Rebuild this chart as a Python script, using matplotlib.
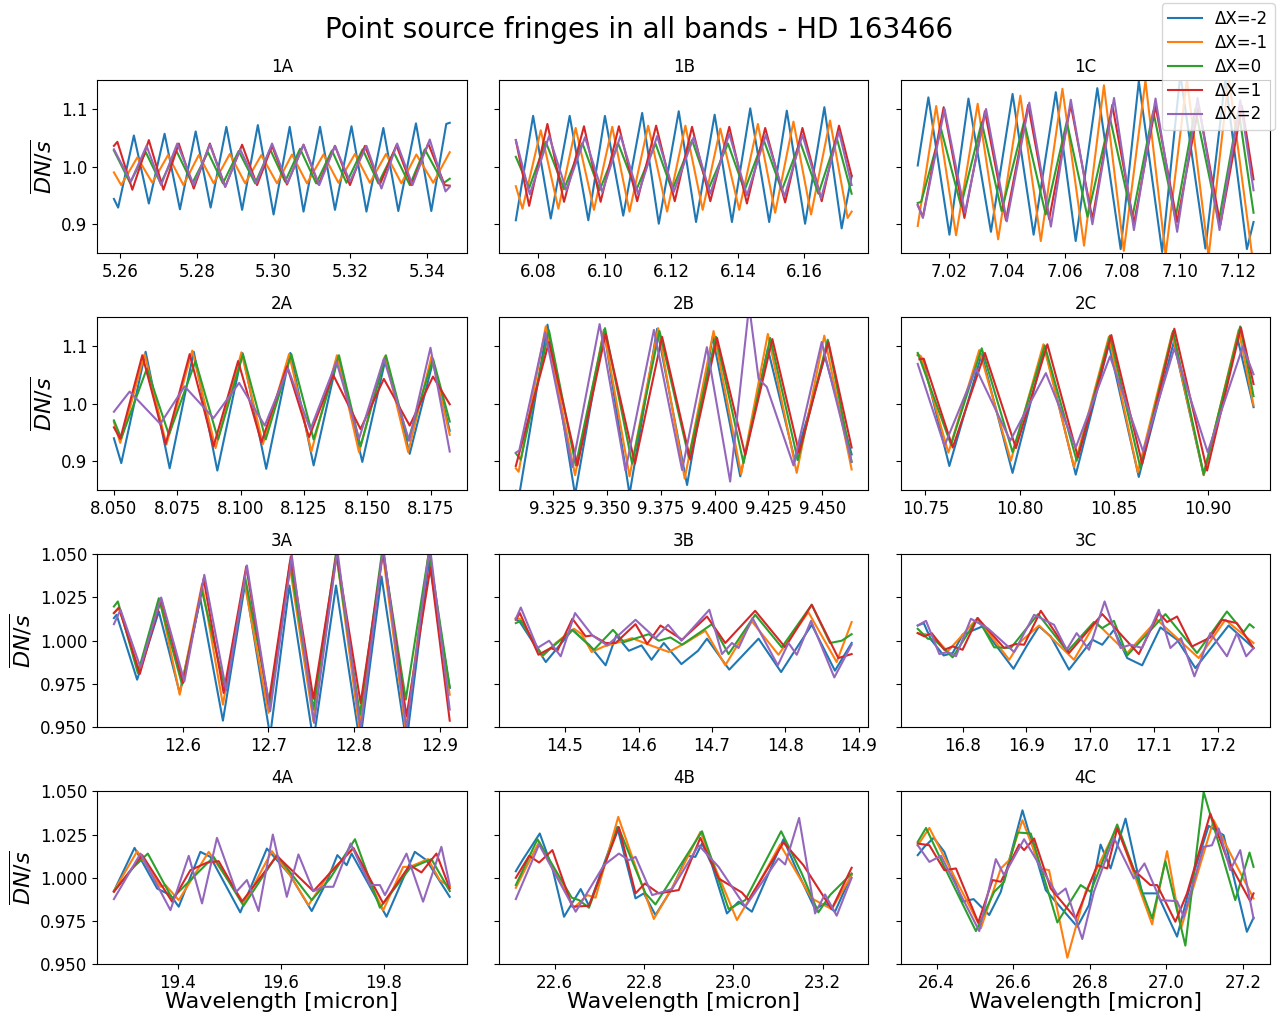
"""Point source fringes in all bands - HD 163466 (4x3 grid, one panel per band)."""
import matplotlib
matplotlib.use("Agg")
import matplotlib.pyplot as plt

OUT = "out.png"

LABELS = ["ΔX=-2", "ΔX=-1", "ΔX=0", "ΔX=1", "ΔX=2"]
COLORS = ["tab:blue", "tab:orange", "tab:green", "tab:red", "tab:purple"]
BANDS = ["1A", "1B", "1C", "2A", "2B", "2C", "3A", "3B", "3C", "4A", "4B", "4C"]

# values at turning points, one list per dither offset
X_1A = [
    [5.2584, 5.2595, 5.2636, 5.2675, 5.2716, 5.2756, 5.2797, 5.2836, 5.2877, 5.2918, 5.2959, 5.3000, 5.3042, 5.3078, 5.3121, 5.3160, 5.3203, 5.3242, 5.3286, 5.3325, 5.3371, 5.3411, 5.3450, 5.3459],
    [5.2584, 5.2603, 5.2645, 5.2684, 5.2725, 5.2765, 5.2805, 5.2844, 5.2886, 5.2926, 5.2968, 5.3009, 5.3048, 5.3087, 5.3130, 5.3169, 5.3212, 5.3251, 5.3293, 5.3333, 5.3372, 5.3416, 5.3459],
    [5.2584, 5.2626, 5.2667, 5.2706, 5.2747, 5.2788, 5.2829, 5.2868, 5.2909, 5.2952, 5.2991, 5.3030, 5.3069, 5.3111, 5.3152, 5.3190, 5.3232, 5.3273, 5.3313, 5.3355, 5.3394, 5.3442, 5.3459],
    [5.2584, 5.2593, 5.2632, 5.2675, 5.2713, 5.2753, 5.2792, 5.2834, 5.2874, 5.2918, 5.2957, 5.2996, 5.3035, 5.3078, 5.3117, 5.3160, 5.3199, 5.3238, 5.3277, 5.3320, 5.3359, 5.3403, 5.3446, 5.3459],
    [5.2584, 5.2628, 5.2669, 5.2707, 5.2749, 5.2792, 5.2834, 5.2874, 5.2913, 5.2955, 5.2996, 5.3036, 5.3078, 5.3119, 5.3160, 5.3199, 5.3242, 5.3281, 5.3322, 5.3362, 5.3407, 5.3448, 5.3459],
]
Y_1A = [
    [0.944, 0.929, 1.054, 0.936, 1.057, 0.926, 1.061, 0.929, 1.069, 0.925, 1.072, 0.917, 1.069, 0.922, 1.069, 0.925, 1.070, 0.922, 1.067, 0.923, 1.075, 0.923, 1.074, 1.076],
    [0.990, 0.968, 1.016, 0.972, 1.020, 0.968, 1.020, 0.971, 1.022, 0.971, 1.020, 0.971, 1.021, 0.971, 1.021, 0.972, 1.022, 0.972, 1.022, 0.971, 1.021, 0.972, 1.025],
    [1.028, 0.972, 1.025, 0.971, 1.027, 0.971, 1.025, 0.971, 1.027, 0.971, 1.030, 0.974, 1.031, 0.971, 1.028, 0.972, 1.030, 0.971, 1.025, 0.968, 1.030, 0.971, 0.979],
    [1.036, 1.043, 0.960, 1.046, 0.960, 1.040, 0.962, 1.040, 0.965, 1.038, 0.968, 1.036, 0.969, 1.038, 0.969, 1.036, 0.968, 1.036, 0.969, 1.037, 0.968, 1.040, 0.968, 0.967],
    [1.030, 0.974, 1.036, 0.968, 1.040, 0.968, 1.038, 0.965, 1.030, 0.971, 1.040, 0.971, 1.038, 0.968, 1.036, 0.974, 1.036, 0.962, 1.040, 0.968, 1.047, 0.957, 0.965],
]

X_1B = [
    [6.0732, 6.0784, 6.0837, 6.0894, 6.0950, 6.1000, 6.1055, 6.1112, 6.1162, 6.1222, 6.1274, 6.1330, 6.1382, 6.1437, 6.1494, 6.1547, 6.1602, 6.1660, 6.1712, 6.1742],
    [6.0732, 6.0752, 6.0807, 6.0860, 6.0912, 6.0967, 6.1022, 6.1074, 6.1130, 6.1187, 6.1242, 6.1294, 6.1347, 6.1404, 6.1460, 6.1512, 6.1567, 6.1620, 6.1677, 6.1730, 6.1742],
    [6.0732, 6.0772, 6.0822, 6.0877, 6.0932, 6.0984, 6.1040, 6.1094, 6.1152, 6.1202, 6.1262, 6.1312, 6.1370, 6.1420, 6.1477, 6.1532, 6.1587, 6.1642, 6.1697, 6.1742],
    [6.0732, 6.0772, 6.0827, 6.0877, 6.0937, 6.0987, 6.1042, 6.1097, 6.1154, 6.1210, 6.1262, 6.1317, 6.1374, 6.1427, 6.1482, 6.1542, 6.1594, 6.1652, 6.1704, 6.1742],
    [6.0732, 6.0774, 6.0832, 6.0884, 6.0940, 6.0992, 6.1047, 6.1100, 6.1157, 6.1207, 6.1267, 6.1317, 6.1374, 6.1427, 6.1484, 6.1540, 6.1594, 6.1650, 6.1704, 6.1742],
]
Y_1B = [
    [0.907, 1.088, 0.910, 1.088, 0.907, 1.088, 0.915, 1.093, 0.901, 1.096, 0.904, 1.090, 0.904, 1.101, 0.904, 1.097, 0.901, 1.103, 0.893, 0.984],
    [0.966, 0.927, 1.063, 0.927, 1.067, 0.925, 1.069, 0.922, 1.071, 0.922, 1.071, 0.925, 1.066, 0.925, 1.074, 0.920, 1.078, 0.917, 1.080, 0.911, 0.922],
    [1.017, 0.963, 1.043, 0.961, 1.041, 0.959, 1.040, 0.959, 1.040, 0.959, 1.046, 0.962, 1.040, 0.959, 1.047, 0.959, 1.043, 0.953, 1.050, 0.953],
    [1.046, 0.932, 1.074, 0.939, 1.070, 0.939, 1.070, 0.940, 1.071, 0.940, 1.069, 0.940, 1.069, 0.936, 1.067, 0.938, 1.067, 0.940, 1.071, 0.984],
    [1.046, 0.952, 1.053, 0.959, 1.051, 0.956, 1.054, 0.952, 1.053, 0.956, 1.051, 0.953, 1.057, 0.950, 1.055, 0.948, 1.055, 0.945, 1.061, 0.968],
]

X_1C = [
    [7.0090, 7.0127, 7.0200, 7.0266, 7.0344, 7.0419, 7.0492, 7.0569, 7.0638, 7.0713, 7.0794, 7.0857, 7.0938, 7.1001, 7.1088, 7.1157, 7.1232, 7.1255],
    [7.0090, 7.0154, 7.0223, 7.0298, 7.0369, 7.0446, 7.0517, 7.0592, 7.0667, 7.0736, 7.0805, 7.0880, 7.0950, 7.1024, 7.1099, 7.1169, 7.1249, 7.1255],
    [7.0090, 7.0102, 7.0171, 7.0240, 7.0312, 7.0381, 7.0459, 7.0534, 7.0607, 7.0679, 7.0757, 7.0834, 7.0907, 7.0984, 7.1053, 7.1134, 7.1203, 7.1255],
    [7.0090, 7.0108, 7.0180, 7.0252, 7.0323, 7.0396, 7.0473, 7.0546, 7.0621, 7.0696, 7.0765, 7.0840, 7.0915, 7.0990, 7.1065, 7.1140, 7.1215, 7.1255],
    [7.0090, 7.0108, 7.0183, 7.0254, 7.0327, 7.0399, 7.0477, 7.0552, 7.0621, 7.0696, 7.0771, 7.0840, 7.0915, 7.0990, 7.1061, 7.1137, 7.1209, 7.1255],
]
Y_1C = [
    [1.002, 1.120, 0.882, 1.118, 0.887, 1.126, 0.882, 1.129, 0.871, 1.136, 0.857, 1.148, 0.852, 1.160, 0.858, 1.152, 0.857, 0.904],
    [0.897, 1.105, 0.881, 1.109, 0.874, 1.123, 0.871, 1.135, 0.863, 1.141, 0.854, 1.149, 0.847, 1.152, 0.844, 1.155, 0.850, 0.847],
    [0.937, 0.939, 1.065, 0.932, 1.077, 0.923, 1.078, 0.917, 1.078, 0.913, 1.084, 0.911, 1.096, 0.910, 1.100, 0.904, 1.098, 0.920],
    [0.933, 0.913, 1.103, 0.911, 1.096, 0.907, 1.107, 0.909, 1.107, 0.909, 1.107, 0.901, 1.105, 0.904, 1.105, 0.899, 1.105, 0.978],
    [0.934, 0.911, 1.100, 0.920, 1.100, 0.905, 1.111, 0.896, 1.116, 0.900, 1.119, 0.890, 1.118, 0.887, 1.119, 0.890, 1.115, 0.959],
]

X_2A = [
    [8.0500, 8.0529, 8.0625, 8.0720, 8.0815, 8.0908, 8.1007, 8.1101, 8.1196, 8.1288, 8.1384, 8.1480, 8.1573, 8.1667, 8.1759, 8.1825],
    [8.0500, 8.0525, 8.0621, 8.0707, 8.0809, 8.0901, 8.1003, 8.1088, 8.1191, 8.1279, 8.1380, 8.1467, 8.1569, 8.1661, 8.1753, 8.1825],
    [8.0500, 8.0529, 8.0630, 8.0717, 8.0822, 8.0911, 8.1009, 8.1099, 8.1200, 8.1288, 8.1388, 8.1473, 8.1573, 8.1661, 8.1759, 8.1825],
    [8.0500, 8.0525, 8.0612, 8.0704, 8.0799, 8.0893, 8.0990, 8.1082, 8.1183, 8.1270, 8.1365, 8.1473, 8.1565, 8.1667, 8.1759, 8.1825],
    [8.0500, 8.0562, 8.0683, 8.0779, 8.0893, 8.0994, 8.1095, 8.1187, 8.1275, 8.1378, 8.1467, 8.1565, 8.1665, 8.1749, 8.1825],
]
Y_2A = [
    [0.940, 0.897, 1.090, 0.888, 1.090, 0.884, 1.088, 0.887, 1.088, 0.893, 1.082, 0.899, 1.080, 0.913, 1.073, 0.953],
    [0.968, 0.932, 1.086, 0.929, 1.092, 0.923, 1.089, 0.930, 1.086, 0.917, 1.084, 0.916, 1.082, 0.916, 1.082, 0.946],
    [0.971, 0.940, 1.061, 0.946, 1.074, 0.938, 1.086, 0.938, 1.086, 0.938, 1.084, 0.926, 1.084, 0.936, 1.078, 0.969],
    [0.959, 0.939, 1.084, 0.930, 1.086, 0.926, 1.074, 0.933, 1.065, 0.942, 1.050, 0.956, 1.043, 0.962, 1.047, 0.999],
    [0.986, 1.021, 0.965, 1.030, 0.975, 1.036, 0.962, 1.061, 0.955, 1.073, 0.939, 1.078, 0.936, 1.097, 0.917],
]

X_2B = [
    [9.3077, 9.3093, 9.3224, 9.3352, 9.3486, 9.3605, 9.3733, 9.3872, 9.3991, 9.4119, 9.4247, 9.4373, 9.4512, 9.4636],
    [9.3077, 9.3090, 9.3216, 9.3352, 9.3486, 9.3605, 9.3738, 9.3861, 9.3995, 9.4123, 9.4247, 9.4381, 9.4509, 9.4636],
    [9.3077, 9.3100, 9.3231, 9.3355, 9.3491, 9.3617, 9.3744, 9.3880, 9.4006, 9.4134, 9.4258, 9.4386, 9.4525, 9.4636],
    [9.3077, 9.3231, 9.3363, 9.3494, 9.3630, 9.3756, 9.3887, 9.4011, 9.4142, 9.4268, 9.4392, 9.4528, 9.4636],
    [9.3077, 9.3093, 9.3213, 9.3339, 9.3466, 9.3586, 9.3718, 9.3849, 9.3964, 9.4072, 9.4160, 9.4204, 9.4242, 9.4366, 9.4497, 9.4636],
]
Y_2B = [
    [0.849, 0.842, 1.137, 0.842, 1.128, 0.843, 1.130, 0.859, 1.116, 0.874, 1.095, 0.901, 1.082, 0.912],
    [0.888, 0.882, 1.134, 0.876, 1.127, 0.874, 1.131, 0.870, 1.126, 0.878, 1.121, 0.880, 1.118, 0.886],
    [0.914, 0.903, 1.127, 0.893, 1.131, 0.896, 1.126, 0.907, 1.116, 0.897, 1.114, 0.902, 1.111, 0.899],
    [0.892, 1.107, 0.893, 1.121, 0.896, 1.116, 0.903, 1.114, 0.911, 1.112, 0.915, 1.107, 0.924],
    [0.915, 0.919, 1.124, 0.890, 1.138, 0.884, 1.128, 0.885, 1.098, 0.865, 1.170, 1.043, 1.029, 0.893, 1.107, 0.899],
]

X_2C = [
    [10.7459, 10.7486, 10.7627, 10.7799, 10.7963, 10.8134, 10.8299, 10.8475, 10.8634, 10.8820, 10.8979, 10.9159, 10.9244],
    [10.7459, 10.7477, 10.7622, 10.7786, 10.7954, 10.8127, 10.8290, 10.8475, 10.8629, 10.8811, 10.8979, 10.9165, 10.9244],
    [10.7459, 10.7636, 10.7799, 10.7963, 10.8134, 10.8304, 10.8481, 10.8643, 10.8816, 10.8979, 10.9173, 10.9244],
    [10.7468, 10.7491, 10.7645, 10.7816, 10.7981, 10.8148, 10.8311, 10.8488, 10.8652, 10.8823, 10.8997, 10.9177, 10.9244],
    [10.7459, 10.7601, 10.7769, 10.7951, 10.8140, 10.8299, 10.8481, 10.8657, 10.8823, 10.9000, 10.9187, 10.9244],
]
Y_2C = [
    [1.084, 1.077, 0.892, 1.086, 0.880, 1.097, 0.877, 1.103, 0.873, 1.107, 0.876, 1.113, 0.994],
    [1.086, 1.082, 0.915, 1.093, 0.901, 1.103, 0.890, 1.116, 0.881, 1.122, 0.877, 1.128, 0.997],
    [1.088, 0.929, 1.096, 0.916, 1.101, 0.901, 1.118, 0.888, 1.126, 0.878, 1.134, 1.013],
    [1.077, 1.078, 0.924, 1.088, 0.923, 1.103, 0.907, 1.119, 0.896, 1.130, 0.884, 1.132, 1.034],
    [1.069, 0.927, 1.061, 0.936, 1.053, 0.924, 1.082, 0.917, 1.096, 0.916, 1.099, 1.051],
]

X_3A = [
    [12.5197, 12.5228, 12.5468, 12.5721, 12.5965, 12.6206, 12.6469, 12.6729, 12.7020, 12.7245, 12.7525, 12.7789, 12.8068, 12.8320, 12.8611, 12.8875, 12.9116],
    [12.5197, 12.5255, 12.5499, 12.5732, 12.5965, 12.6225, 12.6469, 12.6718, 12.7001, 12.7253, 12.7525, 12.7796, 12.8060, 12.8332, 12.8603, 12.8875, 12.9116],
    [12.5197, 12.5243, 12.5476, 12.5721, 12.5992, 12.6225, 12.6497, 12.6729, 12.7013, 12.7253, 12.7525, 12.7789, 12.8068, 12.8332, 12.8603, 12.8875, 12.9116],
    [12.5197, 12.5255, 12.5499, 12.5748, 12.6004, 12.6244, 12.6477, 12.6741, 12.7001, 12.7261, 12.7525, 12.7796, 12.8076, 12.8340, 12.8611, 12.8891, 12.9116],
    [12.5197, 12.5274, 12.5507, 12.5748, 12.6019, 12.6252, 12.6508, 12.6749, 12.7020, 12.7273, 12.7533, 12.7804, 12.8076, 12.8340, 12.8611, 12.8883, 12.9116],
]
Y_3A = [
    [1.0131, 1.0150, 0.9775, 1.0169, 0.9698, 1.0242, 0.9538, 1.0333, 0.9450, 1.0319, 0.9420, 1.0319, 0.9410, 1.0371, 0.9410, 1.0462, 0.9727],
    [1.0160, 1.0188, 0.9819, 1.0242, 0.9688, 1.0327, 0.9631, 1.0342, 0.9583, 1.0419, 0.9535, 1.0496, 0.9496, 1.0515, 0.9480, 1.0525, 0.9688],
    [1.0198, 1.0227, 0.9813, 1.0246, 0.9746, 1.0288, 0.9717, 1.0365, 0.9631, 1.0454, 0.9602, 1.0506, 0.9573, 1.0535, 0.9660, 1.0519, 0.9731],
    [1.0160, 1.0192, 0.9808, 1.0242, 0.9756, 1.0358, 0.9698, 1.0429, 0.9635, 1.0487, 0.9665, 1.0506, 0.9640, 1.0515, 0.9563, 1.0423, 0.9538],
    [1.0096, 1.0179, 0.9846, 1.0250, 0.9765, 1.0381, 0.9712, 1.0435, 0.9592, 1.0492, 0.9525, 1.0525, 0.9487, 1.0540, 0.9487, 1.0550, 0.9602],
]

X_3B = [
    [14.4330, 14.4385, 14.4738, 14.5100, 14.5326, 14.5552, 14.5697, 14.5869, 14.6041, 14.6177, 14.6344, 14.6584, 14.6810, 14.6932, 14.7235, 14.7634, 14.7941, 14.8086, 14.8358, 14.8674, 14.8901],
    [14.4330, 14.4385, 14.4692, 14.4873, 14.5122, 14.5226, 14.5362, 14.5529, 14.5733, 14.5914, 14.6140, 14.6412, 14.6638, 14.6910, 14.7181, 14.7543, 14.7905, 14.8312, 14.8697, 14.8901],
    [14.4330, 14.4398, 14.4692, 14.5100, 14.5394, 14.5652, 14.5801, 14.6140, 14.6276, 14.6434, 14.6593, 14.7000, 14.7226, 14.7588, 14.7950, 14.8358, 14.8606, 14.8765, 14.8901],
    [14.4330, 14.4385, 14.4638, 14.4805, 14.4896, 14.5100, 14.5281, 14.5371, 14.5552, 14.5688, 14.5959, 14.6118, 14.6299, 14.6593, 14.6932, 14.7181, 14.7588, 14.7996, 14.8358, 14.8720, 14.8901],
    [14.4330, 14.4398, 14.4624, 14.4783, 14.4941, 14.5136, 14.5371, 14.5575, 14.5959, 14.6231, 14.6403, 14.6584, 14.6964, 14.7136, 14.7272, 14.7362, 14.7552, 14.7896, 14.8041, 14.8154, 14.8349, 14.8665, 14.8901],
]
Y_3B = [
    [1.0127, 1.0108, 0.9877, 1.0063, 0.9977, 0.9858, 1.0031, 0.9942, 0.9973, 0.9890, 0.9987, 0.9865, 0.9942, 1.0012, 0.9833, 1.0012, 0.9819, 0.9915, 1.0092, 0.9827, 0.9987],
    [1.0131, 1.0127, 0.9910, 0.9987, 1.0069, 1.0038, 0.9935, 0.9967, 0.9992, 1.0015, 0.9977, 0.9935, 0.9987, 1.0058, 0.9858, 1.0112, 0.9919, 1.0165, 0.9877, 1.0108],
    [1.0102, 1.0115, 0.9915, 1.0063, 0.9948, 1.0063, 0.9992, 1.0038, 1.0000, 1.0019, 0.9977, 1.0096, 0.9923, 1.0150, 0.9962, 1.0208, 0.9987, 1.0000, 1.0038],
    [1.0121, 1.0160, 0.9919, 0.9958, 0.9942, 1.0127, 1.0025, 1.0031, 0.9987, 0.9987, 1.0096, 0.9981, 1.0088, 1.0006, 1.0140, 0.9987, 1.0173, 0.9962, 1.0208, 0.9900, 0.9923],
    [1.0127, 1.0192, 0.9958, 1.0000, 0.9910, 1.0160, 1.0031, 0.9973, 1.0121, 1.0015, 1.0092, 1.0000, 1.0179, 0.9923, 0.9987, 0.9958, 1.0131, 0.9858, 0.9987, 0.9919, 1.0115, 0.9788, 0.9977],
]

X_3C = [
    [16.7296, 16.7390, 16.7505, 16.7703, 16.7844, 16.8000, 16.8313, 16.8495, 16.8798, 16.9017, 16.9199, 16.9382, 16.9669, 17.0034, 17.0190, 17.0373, 17.0581, 17.0816, 17.1103, 17.1364, 17.1651, 17.2172, 17.2563],
    [16.7296, 16.7531, 16.7765, 16.8235, 16.8730, 16.8913, 16.9199, 16.9747, 17.0086, 17.0581, 17.1051, 17.1703, 17.2120, 17.2563],
    [16.7296, 16.7452, 16.7557, 16.7844, 16.8235, 16.8495, 16.8756, 16.9184, 16.9643, 17.0060, 17.0190, 17.0373, 17.0581, 17.1181, 17.1677, 17.2146, 17.2407, 17.2500, 17.2563],
    [16.7296, 16.7400, 16.7515, 16.7713, 16.7844, 16.8000, 16.8235, 16.8652, 16.8834, 16.8965, 16.9226, 16.9669, 17.0190, 17.0764, 17.1077, 17.1207, 17.1364, 17.1598, 17.1885, 17.2068, 17.2302, 17.2563],
    [16.7296, 16.7426, 16.7635, 16.7765, 16.7896, 16.8130, 16.8391, 16.8808, 16.9121, 16.9434, 16.9632, 16.9789, 16.9982, 17.0227, 17.0477, 17.0634, 17.0816, 17.1077, 17.1259, 17.1426, 17.1635, 17.1729, 17.1885, 17.2146, 17.2302, 17.2448, 17.2563],
]
Y_3C = [
    [1.0088, 1.0102, 1.0006, 0.9915, 0.9929, 1.0035, 1.0083, 0.9987, 0.9838, 0.9977, 1.0083, 1.0025, 0.9833, 1.0006, 0.9977, 1.0063, 0.9900, 0.9858, 1.0077, 1.0006, 0.9842, 1.0088, 0.9958],
    [1.0044, 1.0031, 0.9938, 1.0131, 0.9890, 0.9996, 1.0088, 0.9890, 1.0108, 0.9929, 1.0121, 0.9900, 1.0121, 0.9987],
    [1.0069, 1.0012, 1.0006, 0.9904, 1.0131, 0.9962, 0.9958, 1.0154, 0.9938, 1.0108, 1.0073, 1.0115, 0.9915, 1.0154, 0.9929, 1.0169, 1.0050, 1.0096, 1.0077],
    [1.0044, 1.0025, 1.0044, 0.9948, 0.9967, 0.9948, 1.0131, 0.9958, 0.9981, 0.9977, 1.0173, 0.9929, 1.0154, 0.9923, 1.0160, 1.0108, 1.0140, 0.9967, 1.0019, 1.0121, 1.0102, 0.9958],
    [1.0088, 1.0115, 0.9923, 0.9935, 0.9910, 1.0127, 1.0073, 0.9935, 1.0150, 1.0092, 0.9948, 1.0044, 0.9948, 1.0227, 0.9958, 0.9977, 0.9958, 1.0179, 0.9958, 1.0015, 0.9794, 0.9881, 1.0044, 0.9910, 1.0044, 0.9910, 0.9958],
]

X_4A = [
    [19.2761, 19.3161, 19.3600, 19.3858, 19.4019, 19.4439, 19.4632, 19.5213, 19.5729, 19.6181, 19.6600, 19.6890, 19.7097, 19.7278, 19.7374, 19.8052, 19.8600, 19.8826, 19.9278],
    [19.2761, 19.3213, 19.3665, 19.3761, 19.4019, 19.4600, 19.5290, 19.5826, 19.6181, 19.6536, 19.6955, 19.7407, 19.7987, 19.8374, 19.8503, 19.8858, 19.9084, 19.9278],
    [19.2761, 19.3148, 19.3419, 19.3890, 19.4697, 19.5277, 19.5923, 19.6600, 19.6955, 19.7439, 19.7923, 19.8503, 19.8923, 19.9278],
    [19.2761, 19.3310, 19.3890, 19.4245, 19.4568, 19.4794, 19.5245, 19.5923, 19.6632, 19.7407, 19.7987, 19.8503, 19.8729, 19.9020, 19.9278],
    [19.2761, 19.3277, 19.3858, 19.4213, 19.4471, 19.4761, 19.5136, 19.5342, 19.5568, 19.5845, 19.6116, 19.6342, 19.6632, 19.6826, 19.7019, 19.7355, 19.7729, 19.7923, 19.8020, 19.8439, 19.8761, 19.9116, 19.9278],
]
Y_4A = [
    [0.9923, 1.0173, 0.9938, 0.9900, 0.9833, 1.0150, 1.0121, 0.9800, 1.0169, 1.0015, 0.9808, 0.9977, 1.0131, 1.0073, 1.0140, 0.9775, 1.0150, 1.0102, 0.9890],
    [0.9923, 1.0154, 0.9948, 0.9958, 0.9871, 1.0150, 0.9852, 1.0154, 1.0015, 0.9842, 1.0031, 1.0169, 0.9813, 1.0063, 1.0063, 1.0108, 0.9987, 0.9948],
    [0.9923, 1.0063, 1.0140, 0.9881, 1.0121, 0.9838, 1.0131, 0.9871, 0.9996, 1.0223, 0.9827, 1.0054, 1.0108, 0.9923],
    [0.9919, 1.0131, 0.9862, 1.0044, 1.0088, 1.0096, 0.9862, 1.0127, 0.9923, 1.0173, 0.9852, 1.0073, 1.0031, 1.0140, 0.9938],
    [0.9877, 1.0140, 0.9813, 1.0127, 0.9852, 1.0231, 0.9919, 0.9987, 0.9808, 1.0250, 0.9890, 1.0135, 0.9923, 0.9948, 0.9948, 1.0198, 0.9958, 0.9958, 0.9900, 1.0140, 0.9862, 1.0179, 0.9958],
]

X_4B = [
    [22.5129, 22.5278, 22.5665, 22.5948, 22.6208, 22.6581, 22.6767, 22.7399, 22.7809, 22.7995, 22.8255, 22.8627, 22.8962, 22.9148, 22.9297, 22.9521, 22.9855, 23.0116, 23.0414, 23.1121, 23.1419, 23.1828, 23.2051, 23.2274, 23.2647],
    [22.5129, 22.5650, 22.6432, 22.6729, 22.6915, 22.7422, 22.8218, 22.8627, 22.9260, 23.0079, 23.0563, 23.1046, 23.1753, 23.2200, 23.2647],
    [22.5129, 22.5613, 22.6380, 22.6543, 22.6767, 22.7422, 22.8032, 22.8255, 22.9297, 22.9893, 23.0265, 23.1069, 23.1530, 23.1902, 23.2163, 23.2647],
    [22.5129, 22.5427, 22.5650, 22.5948, 22.6394, 22.6767, 22.7437, 22.7809, 22.8017, 22.8330, 22.8776, 22.9260, 22.9669, 23.0190, 23.0339, 23.1121, 23.1567, 23.2200, 23.2647],
    [22.5129, 22.5650, 22.6469, 22.7102, 22.7437, 22.7660, 22.7809, 22.8181, 22.8627, 22.9223, 22.9669, 23.0265, 23.1009, 23.1158, 23.1471, 23.1828, 23.2051, 23.2312, 23.2647],
]
Y_4B = [
    [1.0038, 1.0102, 1.0256, 1.0054, 0.9775, 0.9935, 0.9838, 1.0294, 0.9881, 0.9910, 0.9785, 0.9938, 1.0127, 1.0121, 1.0198, 1.0073, 0.9794, 0.9862, 0.9804, 1.0223, 1.0044, 0.9819, 0.9852, 0.9804, 1.0019],
    [0.9942, 1.0208, 0.9827, 0.9900, 0.9885, 1.0352, 0.9762, 0.9942, 1.0265, 0.9756, 0.9967, 1.0192, 0.9881, 0.9819, 1.0015],
    [0.9958, 1.0223, 0.9885, 0.9871, 0.9827, 1.0294, 0.9910, 0.9846, 1.0269, 0.9819, 0.9871, 1.0269, 1.0025, 0.9800, 0.9900, 1.0025],
    [1.0000, 1.0127, 1.0088, 1.0160, 0.9833, 0.9838, 1.0292, 0.9910, 0.9967, 0.9910, 0.9929, 1.0231, 0.9996, 0.9915, 0.9871, 1.0204, 1.0073, 0.9819, 1.0058],
    [0.9877, 1.0192, 0.9804, 1.0073, 1.0140, 1.0102, 1.0121, 0.9900, 0.9935, 1.0188, 1.0063, 0.9833, 1.0112, 1.0077, 1.0346, 0.9794, 0.9904, 0.9781, 1.0000],
]

X_4C = [
    [26.3505, 26.3679, 26.3922, 26.4200, 26.4677, 26.4964, 26.5372, 26.5676, 26.6241, 26.6849, 26.7674, 26.7978, 26.8282, 26.8543, 26.8934, 26.9368, 26.9759, 27.0280, 27.0671, 27.1105, 27.1496, 27.2104, 27.2278],
    [26.3505, 26.3809, 26.5155, 26.5676, 26.5894, 26.6241, 26.6719, 26.6936, 26.7414, 26.7891, 26.8716, 26.9629, 27.0019, 27.0384, 27.1236, 27.1583, 27.2278],
    [26.3505, 26.3722, 26.4200, 26.5025, 26.5503, 26.5763, 26.6111, 26.6458, 26.7153, 26.7761, 26.8022, 26.8716, 26.9629, 26.9976, 27.0497, 27.0975, 27.1800, 27.2173, 27.2278],
    [26.3505, 26.3809, 26.4200, 26.4504, 26.5086, 26.5459, 26.5676, 26.6154, 26.6284, 26.6545, 26.6979, 26.7631, 26.8195, 26.8456, 26.8716, 26.9151, 26.9585, 26.9759, 27.0236, 27.0540, 27.1149, 27.1583, 27.2191, 27.2278],
    [26.3505, 26.3809, 26.4113, 26.5112, 26.5546, 26.5763, 26.6284, 26.7153, 26.7370, 26.7804, 26.8108, 26.8456, 26.8630, 26.9151, 26.9429, 26.9846, 27.0280, 27.0454, 27.0975, 27.1192, 27.1366, 27.1670, 27.1930, 27.2278],
]
Y_4C = [
    [1.0131, 1.0179, 1.0231, 1.0150, 0.9862, 0.9877, 0.9785, 0.9919, 1.0390, 0.9929, 0.9717, 0.9842, 1.0192, 1.0054, 1.0342, 0.9910, 0.9910, 0.9660, 0.9996, 1.0300, 1.0246, 0.9688, 0.9769],
    [1.0188, 1.0288, 0.9708, 1.0054, 1.0102, 1.0333, 1.0054, 1.0044, 0.9538, 0.9919, 1.0294, 0.9731, 1.0154, 0.9708, 1.0333, 1.0179, 0.9881],
    [1.0208, 1.0288, 1.0063, 0.9692, 0.9919, 0.9977, 1.0262, 1.0256, 0.9742, 0.9958, 0.9919, 1.0308, 0.9765, 1.0096, 0.9608, 1.0496, 0.9871, 1.0146, 1.0063],
    [1.0198, 1.0188, 1.0044, 1.0054, 0.9742, 0.9987, 0.9977, 1.0192, 1.0160, 1.0227, 0.9938, 0.9765, 1.0073, 1.0054, 1.0285, 1.0044, 0.9958, 0.9958, 0.9746, 0.9910, 1.0371, 1.0112, 0.9865, 0.9910],
    [1.0188, 1.0092, 1.0127, 0.9692, 1.0108, 1.0015, 1.0223, 0.9900, 0.9938, 0.9646, 0.9919, 1.0131, 1.0231, 0.9996, 1.0083, 0.9871, 0.9865, 0.9775, 1.0179, 1.0188, 1.0285, 1.0044, 1.0160, 0.9765],
]

XTICKS = [
    [5.26, 5.28, 5.30, 5.32, 5.34],
    [6.08, 6.10, 6.12, 6.14, 6.16],
    [7.02, 7.04, 7.06, 7.08, 7.10, 7.12],
    [8.050, 8.075, 8.100, 8.125, 8.150, 8.175],
    [9.325, 9.350, 9.375, 9.400, 9.425, 9.450],
    [10.75, 10.80, 10.85, 10.90],
    [12.6, 12.7, 12.8, 12.9],
    [14.5, 14.6, 14.7, 14.8, 14.9],
    [16.8, 16.9, 17.0, 17.1, 17.2],
    [19.4, 19.6, 19.8],
    [22.6, 22.8, 23.0, 23.2],
    [26.4, 26.6, 26.8, 27.0, 27.2],
]

ALL_X = [X_1A, X_1B, X_1C, X_2A, X_2B, X_2C, X_3A, X_3B, X_3C, X_4A, X_4B, X_4C]
ALL_Y = [Y_1A, Y_1B, Y_1C, Y_2A, Y_2B, Y_2C, Y_3A, Y_3B, Y_3C, Y_4A, Y_4B, Y_4C]


def plot() -> None:
    fig, axes = plt.subplots(4, 3, figsize=(12.78, 10.14), dpi=100, sharey="row")
    fig.subplots_adjust(left=0.076, right=0.994, top=0.921, bottom=0.049,
                        wspace=0.088, hspace=0.37)

    for i, ax in enumerate(axes.flat):
        for xs, ys, lab, col in zip(ALL_X[i], ALL_Y[i], LABELS, COLORS):
            ax.plot(xs, ys, color=col, lw=1.5, label=lab)
        ax.set_title(BANDS[i], fontsize=12)
        ax.set_xticks(XTICKS[i])
        ax.tick_params(labelsize=12)

    for r in range(4):
        if r < 2:
            axes[r, 0].set_ylim(0.85, 1.15)
            axes[r, 0].set_yticks([0.9, 1.0, 1.1])
        else:
            axes[r, 0].set_ylim(0.95, 1.05)
            axes[r, 0].set_yticks([0.95, 0.975, 1.0, 1.025, 1.05])
        axes[r, 0].set_ylabel(r"$\overline{DN/s}$", fontsize=16)
    for c in range(3):
        axes[3, c].set_xlabel("Wavelength [micron]", fontsize=16, labelpad=0)

    handles, labels = axes[0, 0].get_legend_handles_labels()
    fig.legend(handles, labels, loc="upper right", fontsize=12,
               bbox_to_anchor=(1.0, 1.0), borderaxespad=0.2, labelspacing=0.35)
    fig.suptitle("Point source fringes in all bands - HD 163466", fontsize=20, y=0.984)

    fig.savefig(OUT, dpi=100)
    plt.close(fig)


if __name__ == "__main__":
    plot()
